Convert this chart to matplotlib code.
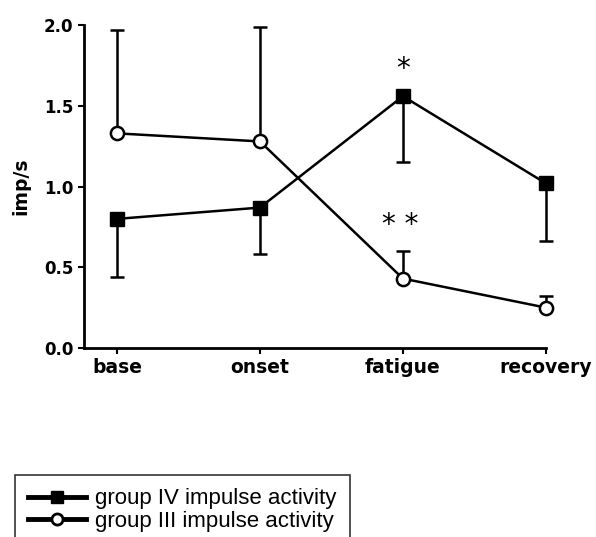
import matplotlib.pyplot as plt
from matplotlib.lines import Line2D
import numpy as np

# data
phases = ["base", "onset", "fatigue", "recovery"]
group4 = [0.80, 0.87, 1.56, 1.02]
group4_err = [0.36, 0.29, 0.41, 0.36]
group3 = [1.33, 1.28, 0.43, 0.25]
group3_err = [0.64, 0.71, 0.17, 0.07]

x = np.arange(len(phases))

fig = plt.figure(figsize=(5.96, 5.37), dpi=100)
ax = fig.add_axes([0.141, 0.352, 0.775, 0.601])

# group IV: error bars downward, group III: upward
e4 = ax.errorbar(x, group4, yerr=[group4_err, np.zeros(4)], color="black", lw=1.8,
                 marker="s", ms=10, mfc="black", mec="black", capsize=5, elinewidth=1.8,
                 capthick=1.8, zorder=3)
e3 = ax.errorbar(x, group3, yerr=[np.zeros(4), group3_err], color="black", lw=1.8,
                 marker="o", ms=9.5, mfc="white", mec="black", mew=1.8, capsize=5,
                 elinewidth=1.8, capthick=1.8, zorder=3)
for cont in (e4, e3):
    for art in cont.get_children():
        art.set_clip_on(False)

# significance marks
ax.text(2, 1.73, "*", ha="center", va="center", fontsize=20)
ax.text(1.98, 0.76, "* *", ha="center", va="center", fontsize=20)

ax.set_xlim(-0.23, 3.0)
ax.set_ylim(0, 2.0)
ax.set_xticks(x)
ax.set_xticklabels(phases, fontsize=13.5, fontweight="bold")
ax.set_yticks([0, 0.5, 1.0, 1.5, 2.0])
ax.set_yticklabels(["0.0", "0.5", "1.0", "1.5", "2.0"], fontsize=12, fontweight="bold")
ax.set_ylabel("imp/s", fontsize=13.5, fontweight="bold", labelpad=10)
ax.spines["top"].set_visible(False)
ax.spines["right"].set_visible(False)
ax.spines["left"].set_linewidth(2)
ax.spines["bottom"].set_linewidth(2)
ax.tick_params(width=1.5, length=4)

handles = [
    Line2D([], [], color="black", lw=3.5, marker="s", ms=8, mfc="black"),
    Line2D([], [], color="black", lw=3.5, marker="o", ms=8, mfc="white", mew=2),
]
labels = ["group IV impulse activity", "group III impulse activity"]
leg = fig.legend(handles, labels, loc="upper left", bbox_to_anchor=(15 / 596, 1 - 475 / 537),
                 prop={"family": "Liberation Sans", "size": 16}, frameon=True,
                 fancybox=False, edgecolor="black", borderaxespad=0,
                 borderpad=0.6, labelspacing=0.08, handlelength=2.6, handletextpad=0.4)
leg.get_frame().set_linewidth(1.2)

fig.savefig("out.png", dpi=100)
